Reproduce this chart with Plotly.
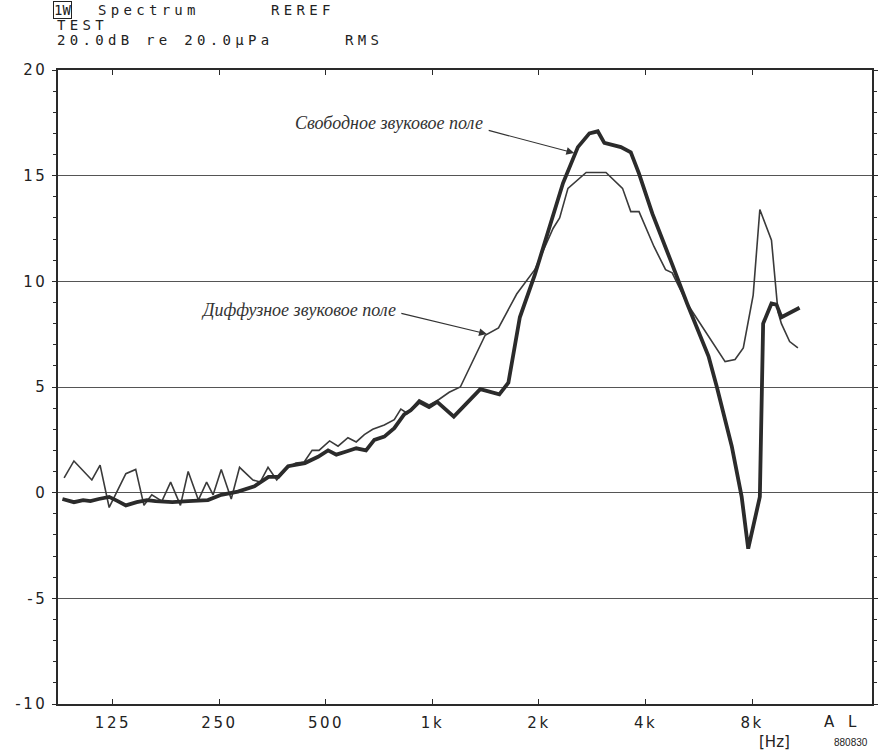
import numpy as np
import plotly.graph_objects as go

# ---- data ----
diffuse_freq = [91, 97, 109, 115, 122, 136, 145, 153, 161, 172, 182, 194, 204, 218, 230,
                240, 253, 270, 285, 311, 326, 343, 363, 387, 411, 434, 457, 478, 512, 541,
                577, 609, 642, 678, 731, 780, 814, 850, 917, 978, 1031, 1115, 1199, 1409, 1537,
                1730, 1946, 2192, 2288, 2415, 2719, 3093, 3445, 3635, 3835, 4226, 4558, 4759, 5244, 6715,
                7164, 7559, 8061, 8418, 9080, 9476, 9687, 10220, 10784]
diffuse_db = [0.7, 1.5, 0.6, 1.3, -0.7, 0.9, 1.1, -0.6, -0.1, -0.4, 0.5, -0.6, 1.0, -0.35, 0.5,
              -0.1, 1.1, -0.3, 1.2, 0.6, 0.5, 1.2, 0.6, 1.15, 1.4, 1.45, 2.0, 2.0, 2.45, 2.2,
              2.6, 2.4, 2.75, 3.0, 3.2, 3.45, 3.95, 3.75, 4.4, 4.15, 4.35, 4.75, 5.0, 7.45, 7.8,
              9.4, 10.55, 12.5, 13.0, 14.4, 15.15, 15.15, 14.4, 13.3, 13.3, 11.65, 10.55, 10.4, 8.95, 6.2,
              6.3, 6.85, 9.35, 13.4, 11.95, 8.55, 8.0, 7.15, 6.85]

free_freq = [90, 97, 103, 108, 114, 122, 129, 136, 146, 156, 165, 184, 204, 232, 253,
             282, 314, 344, 367, 391, 436, 475, 507, 535, 571, 609, 649, 685, 731, 780,
             832, 868, 917, 978, 1031, 1149, 1365, 1545, 1639, 1766, 1946, 2099, 2339, 2576, 2777,
             2932, 3060, 3408, 3635, 3835, 4183, 4759, 5244, 6029, 6364, 7012, 7480, 7805, 8418, 8601,
             9080, 9379, 9687, 10902]
free_db = [-0.3, -0.45, -0.35, -0.4, -0.3, -0.2, -0.4, -0.6, -0.45, -0.35, -0.4, -0.45, -0.4, -0.35, -0.1,
           0.05, 0.3, 0.75, 0.75, 1.25, 1.4, 1.7, 2.0, 1.8, 1.95, 2.1, 2.0, 2.5, 2.65, 3.05,
           3.7, 3.9, 4.3, 4.05, 4.3, 3.6, 4.9, 4.65, 5.2, 8.3, 10.3, 12.1, 14.65, 16.35, 17.0,
           17.1, 16.55, 16.35, 16.1, 15.1, 13.2, 10.8, 8.95, 6.45, 5.0, 2.2, -0.2, -2.65, -0.2, 8.0,
           8.95, 8.9, 8.3, 8.75]

x_tickvals = [125, 250, 500, 1000, 2000, 4000, 8000]
x_ticktext = ["125", "250", "500", "1k", "2k", "4k", "8k"]
y_tickvals = [-10, -5, 0, 5, 10, 15, 20]
y_ticktext = ["-10", "-5", "0", "5", "10", "15", "20"]

label_free = "Свободное звуковое поле"
label_diffuse = "Диффузное звуковое поле"

# ---- figure ----
W, H = 880, 751
ML, MR, MT, MB = 58, 2, 70, 47
PW, PH = W - ML - MR, H - MT - MB


def px(xp):
    return (xp - ML) / PW


def py(yp):
    return (H - MB - yp) / PH


tickfont = dict(family="DejaVu Sans", size=15, color="#222")
ink = "#2a2a2a"

fig = go.Figure()
fig.add_trace(go.Scatter(x=diffuse_freq, y=diffuse_db, mode="lines",
                         line=dict(color="#3a3a3a", width=1.6), showlegend=False,
                         name=label_diffuse))
fig.add_trace(go.Scatter(x=free_freq, y=free_db, mode="lines",
                         line=dict(color="#2b2b2b", width=3.8), showlegend=False,
                         name=label_free))

fig.update_layout(
    width=W, height=H,
    margin=dict(l=ML, r=MR, t=MT, b=MB),
    paper_bgcolor="white", plot_bgcolor="white",
    xaxis=dict(type="log", range=[np.log10(87.45), np.log10(17466)],
               tickvals=x_tickvals, ticktext=x_ticktext,
               ticks="inside", ticklen=5, tickcolor=ink, tickwidth=1,
               ticklabelstandoff=4,
               showline=True, linecolor=ink, linewidth=1.5, mirror="ticks",
               showgrid=False, zeroline=False, tickfont=tickfont),
    yaxis=dict(range=[-10, 20], tickvals=y_tickvals, ticktext=y_ticktext,
               ticks="outside", ticklen=4, tickcolor=ink, tickwidth=1,
               ticklabelstandoff=2,
               minor=dict(dtick=1, tick0=0, ticks="outside", ticklen=3, tickcolor=ink, showgrid=False),
               showline=True, linecolor=ink, linewidth=1.5, mirror="ticks",
               showgrid=True, gridcolor="#555", gridwidth=1.2, zeroline=False,
               tickfont=tickfont),
)

hdr = dict(family="DejaVu Sans Mono", size=14, color="#222")
ann = []
# header (indices 0..5 are used by the page style below)
ann.append(dict(text="1W", x=px(53), y=py(10), xanchor="left", yanchor="middle", align="left",
                bordercolor="#222", borderwidth=1, borderpad=0, font=hdr))
ann.append(dict(text="Spectrum", x=px(96), y=py(10), xanchor="left", yanchor="middle", align="left", font=hdr))
ann.append(dict(text="REREF", x=px(271), y=py(10), xanchor="left", yanchor="middle", align="left", font=hdr))
ann.append(dict(text="TEST", x=px(55), y=py(25), xanchor="left", yanchor="middle", align="left", font=hdr))
ann.append(dict(text="20.0dB re 20.0µPa", x=px(55), y=py(40), xanchor="left", yanchor="middle",
                align="left", font=hdr))
ann.append(dict(text="RMS", x=px(345), y=py(40), xanchor="left", yanchor="middle", align="left", font=hdr))

ann.append(dict(text="A", x=px(835), y=py(722), xanchor="center", yanchor="middle", font=tickfont))
ann.append(dict(text="L", x=px(858), y=py(722), xanchor="center", yanchor="middle", font=tickfont))
ann.append(dict(text="[Hz]", x=px(780), y=py(742), xanchor="center", yanchor="middle", font=tickfont))
ann.append(dict(text="880830", x=px(857), y=py(742), xanchor="center", yanchor="middle",
                font=dict(family="Liberation Sans", size=10, color="#222")))

rus = dict(family="Liberation Serif", size=18, color="#333")
ann.append(dict(text="<i>" + label_free + "</i>", x=px(391), y=py(123), xanchor="center",
                yanchor="middle", font=rus))
ann.append(dict(text="<i>" + label_diffuse + "</i>", x=px(300), y=py(310), xanchor="center",
                yanchor="middle", font=rus))
ann.append(dict(text="", x=px(578), y=py(153), ax=-87, ay=-23, showarrow=True,
                arrowhead=2, arrowsize=1.3, arrowwidth=1.2, arrowcolor="#333", standoff=0))
ann.append(dict(text="", x=px(490), y=py(334), ax=-87, ay=-21, showarrow=True,
                arrowhead=2, arrowsize=1.3, arrowwidth=1.2, arrowcolor="#333", standoff=0))

for a in ann:
    a.setdefault("showarrow", False)
    a["xref"] = "paper"
    a["yref"] = "paper"
fig.update_layout(annotations=ann)

page_css = (
    "body{margin:0;padding:0;overflow:hidden}"
    ".xtick text,.ytick text{letter-spacing:2.5px}"
    ".annotation[data-index='1'] text,.annotation[data-index='2'] text,"
    ".annotation[data-index='3'] text,.annotation[data-index='4'] text,"
    ".annotation[data-index='5'] text{letter-spacing:4.3px}"
)
post = ("var s=document.createElement('style');s.textContent=\"" + page_css +
        "\";document.head.appendChild(s);")

fig.write_html("out.html", config={"displayModeBar": False}, post_script=post)
